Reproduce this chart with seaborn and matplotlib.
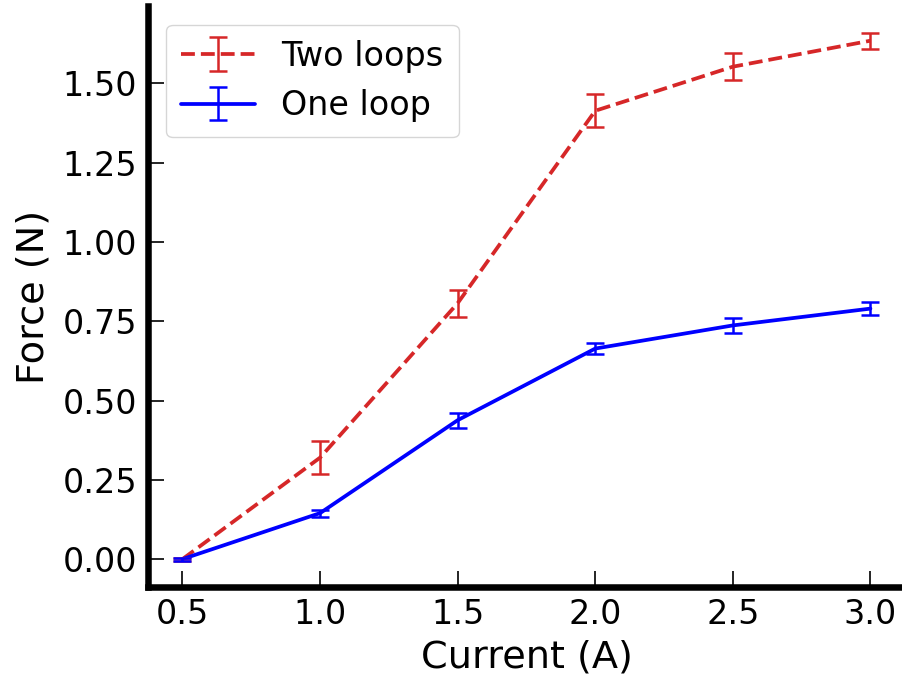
import matplotlib
matplotlib.use("Agg")
import matplotlib.pyplot as plt
import seaborn as sns
import pandas as pd

current = [0.5, 1.0, 1.5, 2.0, 2.5, 3.0]
two_loops = [0.0, 0.32, 0.807, 1.414, 1.553, 1.635]
two_err = [0.005, 0.052, 0.043, 0.052, 0.042, 0.025]
one_loop = [0.0, 0.145, 0.438, 0.664, 0.737, 0.79]
one_err = [0.005, 0.011, 0.024, 0.016, 0.023, 0.021]

sns.set_style("white")
plt.rcParams['font.family'] = ['DejaVu Sans']
plt.rcParams['text.color'] = 'black'
plt.rcParams['axes.labelcolor'] = 'black'

fig = plt.figure(figsize=(9.03, 6.79), dpi=100)
ax = fig.add_axes([0.164, 0.1355, 0.838, 0.855])

df = pd.DataFrame({
    "Current": current * 2,
    "Force": two_loops + one_loop,
    "Series": ["Two loops"] * 6 + ["One loop"] * 6,
})

red = "#d62728"
blue = "#0000ff"
sns.lineplot(data=df[df.Series == "Two loops"], x="Current", y="Force", ax=ax,
             color=red, linestyle="--", linewidth=2.7, legend=False)
sns.lineplot(data=df[df.Series == "One loop"], x="Current", y="Force", ax=ax,
             color=blue, linestyle="-", linewidth=2.7, legend=False)
l_two, l_one = ax.lines[0], ax.lines[1]

e_two = ax.errorbar(current, two_loops, yerr=two_err, fmt="none", ecolor=red,
                    elinewidth=1.8, capsize=6.5, capthick=1.8)
e_one = ax.errorbar(current, one_loop, yerr=one_err, fmt="none", ecolor=blue,
                    elinewidth=1.8, capsize=6.5, capthick=1.8)

ax.set_xlim(0.375, 3.125)
ax.set_ylim(-0.088, 1.743)
ax.set_xticks(current)
ax.set_xticklabels(["0.5", "1.0", "1.5", "2.0", "2.5", "3.0"])
ax.set_yticks([0, 0.25, 0.5, 0.75, 1.0, 1.25, 1.5])
ax.set_yticklabels(["0.00", "0.25", "0.50", "0.75", "1.00", "1.25", "1.50"])

ax.tick_params(axis="both", direction="in", labelsize=24, width=1.2,
               colors="black", length=11.5, bottom=True, left=True)
ax.tick_params(axis="x", pad=8)
ax.tick_params(axis="y", pad=8)

for s in ["top", "right"]:
    ax.spines[s].set_visible(False)
for s in ["left", "bottom"]:
    ax.spines[s].set_linewidth(4.7)
    ax.spines[s].set_color("black")

ax.set_xlabel("Current (A)", fontsize=27.5, labelpad=6)
ax.set_ylabel("Force (N)", fontsize=27.5, labelpad=8)

ax.legend([(l_two, e_two), (l_one, e_one)], ["Two loops", "One loop"],
          loc="upper left", fontsize=24, frameon=True, handlelength=2.2,
          bbox_to_anchor=(0.0, 1.0), borderaxespad=0.55, borderpad=0.45,
          labelspacing=0.5, handletextpad=0.8)

fig.savefig("out.png", dpi=100)
